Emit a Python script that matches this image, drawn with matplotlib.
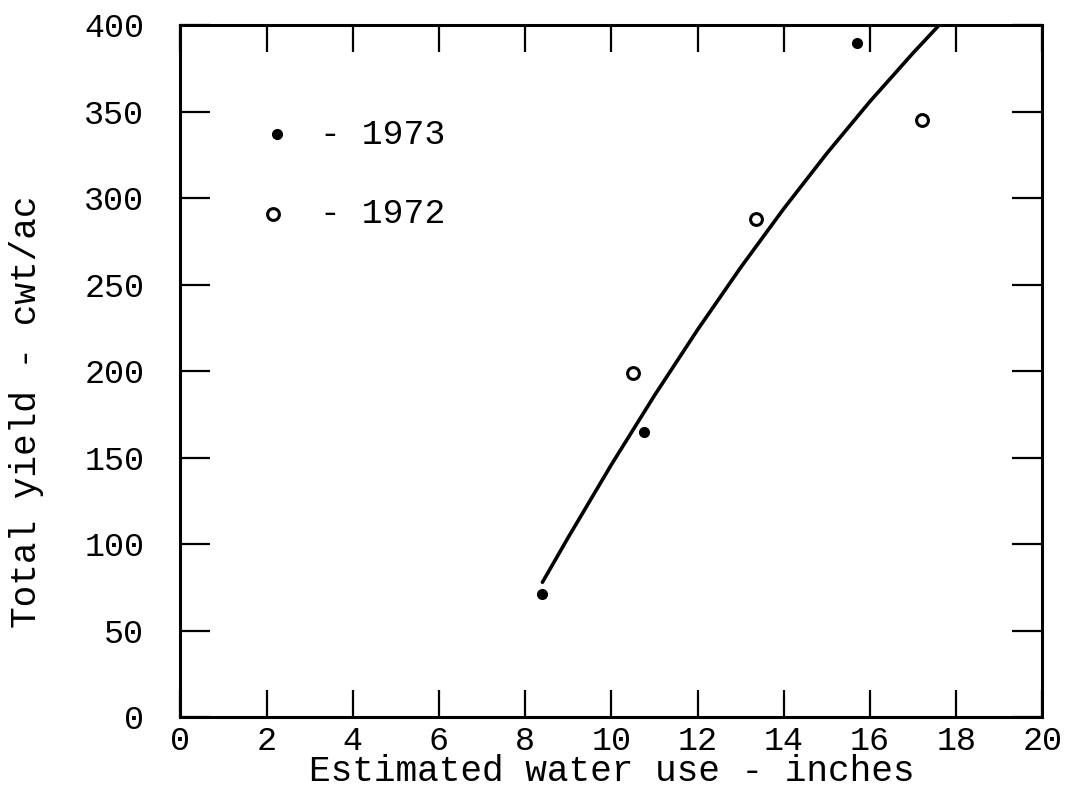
import numpy as np
import matplotlib
matplotlib.use('Agg')
from matplotlib import pyplot as plt

# 1973 (filled) and 1972 (open) observations
x_1973 = [8.4, 10.75, 15.7]
y_1973 = [71, 165, 390]
x_1972 = [10.5, 13.35, 17.2]
y_1972 = [199, 288, 345]

# fitted curve
curve_x = [8.4, 9.0, 10.0, 11.0, 12.0, 13.0, 14.0, 15.0, 16.0, 17.0, 17.6]
curve_y = [78, 104, 146, 186, 224, 260, 294, 326, 356, 384, 400]

xticks = [0, 2, 4, 6, 8, 10, 12, 14, 16, 18, 20]
yticks = [0, 50, 100, 150, 200, 250, 300, 350, 400]

plt.rcParams['font.family'] = ['Liberation Mono', 'DejaVu Sans Mono']

fig = plt.figure(figsize=(10.67, 7.89), dpi=100)
ax = fig.add_axes([0.169, 0.091, 0.808, 0.877])

ax.plot(curve_x, curve_y, color='black', lw=2.6, solid_capstyle='round')
ax.plot(x_1973, y_1973, 'o', color='black', ms=7, ls='none')
ax.plot(x_1972, y_1972, 'o', mfc='none', mec='black', mew=2.2, ms=8.5, ls='none')

# hand drawn legend inside the plot
ax.plot([2.25], [337], 'o', color='black', ms=7)
ax.plot([2.15], [291], 'o', mfc='none', mec='black', mew=2.2, ms=8.5)
ax.text(3.25, 337, '- 1973', fontsize=25, va='center', ha='left')
ax.text(3.25, 291, '- 1972', fontsize=25, va='center', ha='left')

ax.set_xlim(0, 20)
ax.set_ylim(0, 400)
ax.set_xticks(xticks)
ax.set_yticks(yticks)
ax.set_xticklabels([str(t) for t in xticks])
ax.set_yticklabels([str(t) for t in yticks])

for s in ax.spines.values():
    s.set_linewidth(2.2)

ax.tick_params(axis='x', direction='in', length=19.5, width=1.6, top=True,
               labelsize=24, pad=6)
ax.tick_params(axis='y', direction='in', length=21.5, width=1.6, right=True,
               labelsize=24, pad=26)

ax.set_xlabel('Estimated water use - inches', fontsize=26, labelpad=-2)
ax.set_ylabel('Total yield - cwt/ac', fontsize=26)
ax.yaxis.set_label_coords(-0.158, 0.442)

fig.savefig('out.png', dpi=100)
